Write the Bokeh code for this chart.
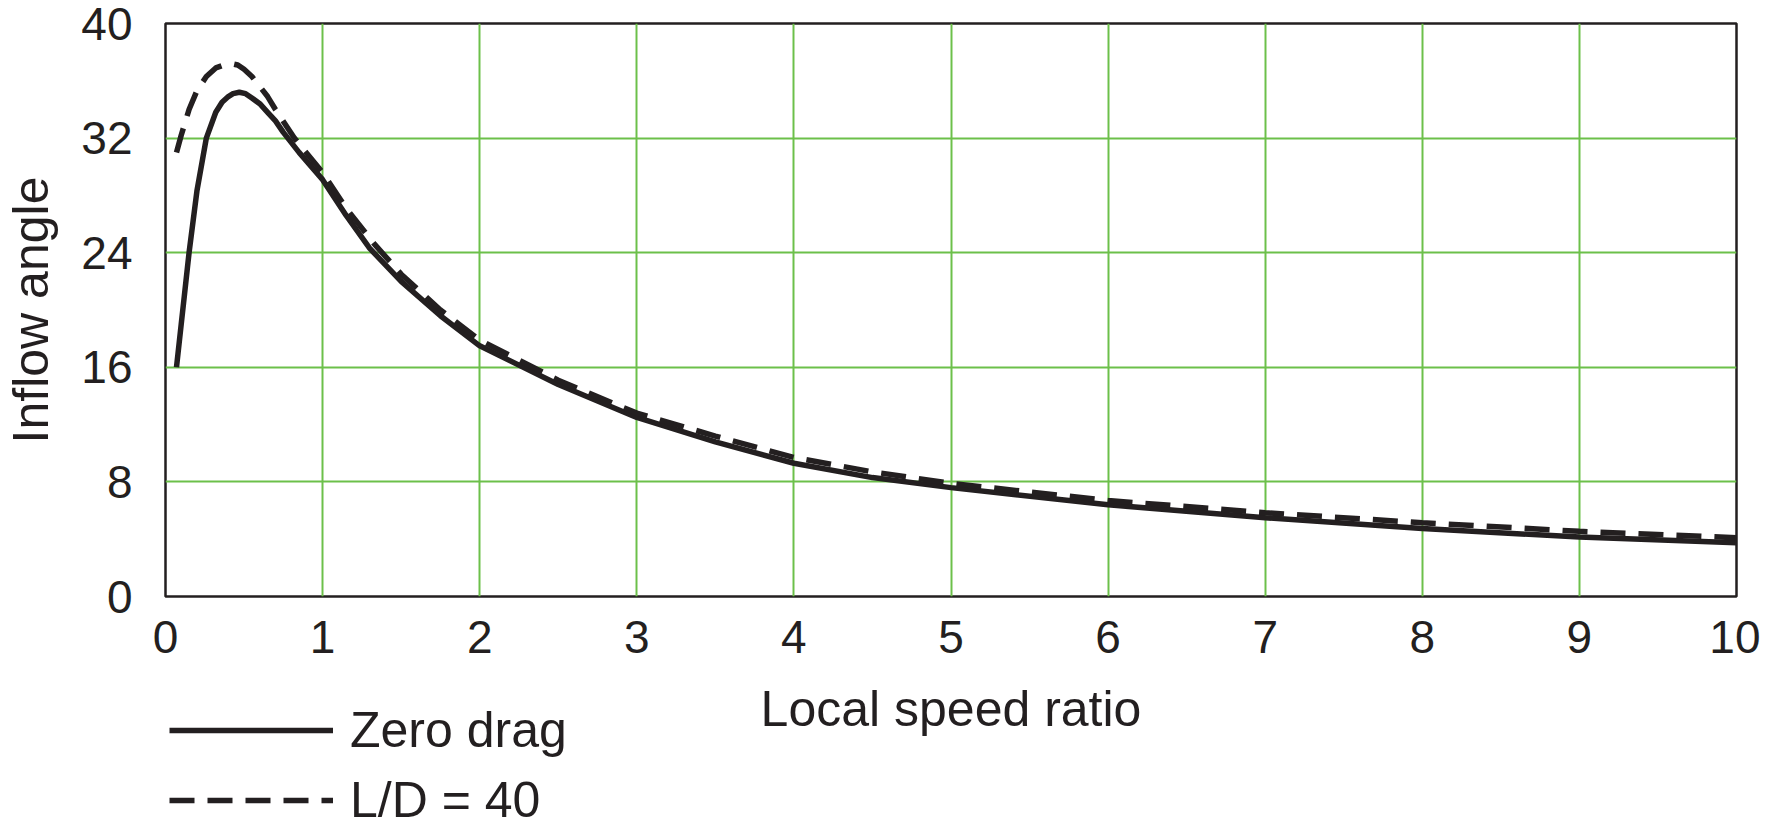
from bokeh.plotting import figure
from bokeh.layouts import column
from bokeh.models import Legend, LegendItem, FixedTicker, Label
from bokeh.embed import file_html
from bokeh.resources import INLINE

# values
zero_drag_x = [0.07, 0.1, 0.12, 0.15, 0.2, 0.26, 0.32, 0.36, 0.4, 0.43, 0.47, 0.51, 0.55, 0.6,
               0.65, 0.7, 0.75, 0.85, 1.0, 1.15, 1.3, 1.5, 1.75, 2.0, 2.5, 3, 3.5, 4, 4.5, 5,
               6, 7, 8, 9, 10]
zero_drag_y = [16.0, 19.0, 21.0, 24.0, 28.3, 32.0, 33.8, 34.5, 34.9, 35.1, 35.2, 35.1, 34.8, 34.4,
               33.8, 33.2, 32.4, 31.0, 29.1, 26.6, 24.3, 22.0, 19.6, 17.5, 14.8, 12.5, 10.8, 9.3, 8.3, 7.6,
               6.4, 5.5, 4.75, 4.15, 3.75]

ld40_x = [0.07, 0.1, 0.15, 0.2, 0.26, 0.32, 0.37, 0.42, 0.46, 0.5, 0.55, 0.6, 0.65, 0.7, 0.82,
          1.0, 1.15, 1.33, 1.5, 1.75, 2.0, 2.5, 3, 3.5, 4, 4.5, 5, 6, 7, 8, 9, 10]
ld40_y = [31.0, 32.2, 34.0, 35.3, 36.3, 36.9, 37.1, 37.2, 37.1, 36.8, 36.3, 35.6, 34.9, 34.0, 32.0,
          29.6, 27.1, 24.6, 22.5, 20.0, 17.9, 15.1, 12.8, 11.2, 9.7, 8.7, 7.9, 6.7, 5.85, 5.15, 4.55, 4.1]

x_ticks = [0, 1, 2, 3, 4, 5, 6, 7, 8, 9, 10]
y_ticks = [0, 8, 16, 24, 32, 40]

FONT = "Liberation Sans"
INK = "#231f20"
GREEN = "#6cc04a"

p = figure(width=1760, height=672, x_range=(0, 10), y_range=(0, 40),
           output_backend="svg", toolbar_location=None,
           min_border_left=163, min_border_right=24, min_border_top=23, min_border_bottom=76)

p.outline_line_color = INK
p.outline_line_width = 2.5
p.outline_line_alpha = 1.0

p.xaxis.ticker = FixedTicker(ticks=x_ticks)
p.yaxis.ticker = FixedTicker(ticks=y_ticks)
p.xgrid.ticker = FixedTicker(ticks=x_ticks)
p.ygrid.ticker = FixedTicker(ticks=y_ticks)
for g in (p.xgrid, p.ygrid):
    g.grid_line_color = GREEN
    g.grid_line_width = 2
    g.grid_line_alpha = 1.0

for ax in (p.xaxis, p.yaxis):
    ax.axis_line_color = None
    ax.major_tick_line_color = None
    ax.minor_tick_line_color = None
    ax.major_label_text_font = FONT
    ax.major_label_text_font_size = "46px"
    ax.major_label_text_color = INK
    ax.axis_label_text_font = FONT
    ax.axis_label_text_font_size = "50px"
    ax.axis_label_text_font_style = "normal"
    ax.axis_label_text_color = INK

p.yaxis.axis_label = "Inflow angle"
p.xaxis.major_label_standoff = 18
p.yaxis.major_label_standoff = 27
p.yaxis.axis_label_standoff = 19

r1 = p.line(zero_drag_x, zero_drag_y, line_color=INK, line_width=5.5)
r2 = p.line(ld40_x, ld40_y, line_color=INK, line_width=5.5, line_dash="25 13")

# strip under the chart: x axis title and the key (annotations in the main
# figure would be clipped to its frame)
key = figure(width=1760, height=150, x_range=p.x_range, y_range=(0, 1),
             output_backend="svg", toolbar_location=None,
             x_axis_type=None, y_axis_type=None,
             min_border_left=163, min_border_right=24, min_border_top=0, min_border_bottom=0)
key.outline_line_color = None
key.xgrid.visible = False
key.ygrid.visible = False

key.add_layout(Label(x=5, y=114, y_units="screen", text="Local speed ratio",
                     text_align="center", text_baseline="middle",
                     text_font=FONT, text_font_size="50px", text_color=INK))

# same series again, they fall outside this strip's y range and only feed the key
k1 = key.line(zero_drag_x, zero_drag_y, line_color=INK, line_width=5.5)
k2 = key.line(ld40_x, ld40_y, line_color=INK, line_width=5.5, line_dash="25 13")
legend = Legend(items=[LegendItem(label="Zero drag", renderers=[k1]),
                       LegendItem(label="L/D = 40", renderers=[k2])],
                location=(4, -7), orientation="vertical")
legend.glyph_width = 164
legend.glyph_height = 58
legend.label_height = 58
legend.spacing = 12
legend.padding = 0
legend.margin = 0
legend.label_standoff = 17
legend.label_text_font = FONT
legend.label_text_font_size = "50px"
legend.label_text_color = INK
legend.border_line_color = None
legend.background_fill_alpha = 0
key.add_layout(legend, "center")

page = column(p, key, spacing=0)

open("out.html", "w").write(file_html(page, INLINE))
